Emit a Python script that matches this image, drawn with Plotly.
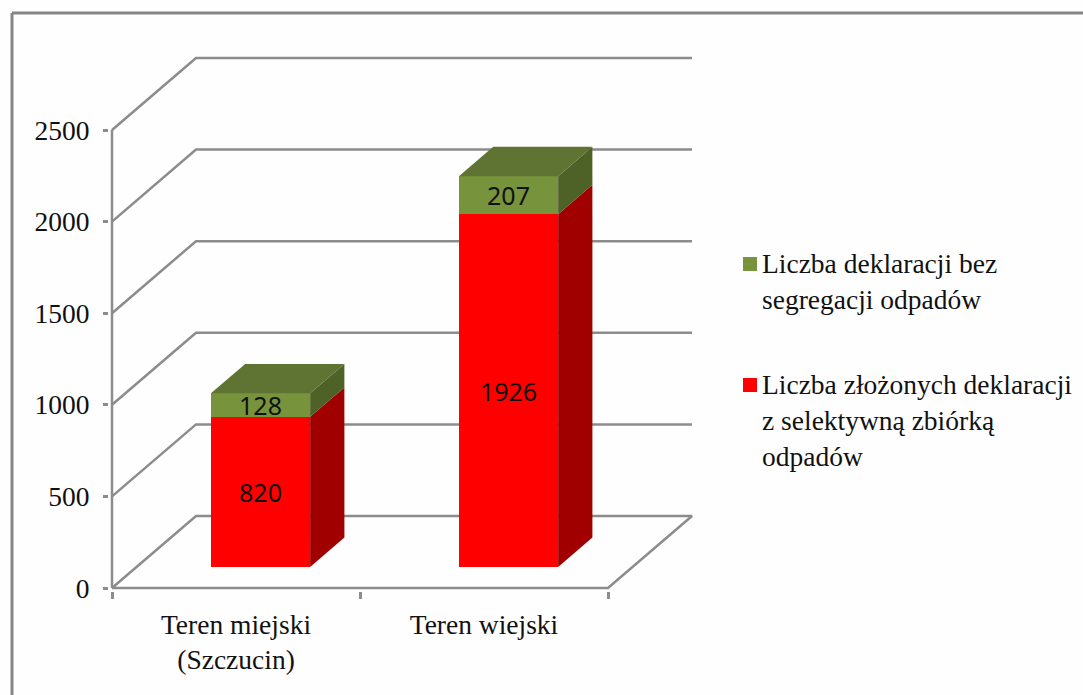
import plotly.graph_objects as go

categories = ["Teren miejski<br>(Szczucin)", "Teren wiejski"]
selective = [820, 1926]
no_segregation = [128, 207]
y_ticks = [0, 500, 1000, 1500, 2000, 2500]
name_selective = "Liczba złożonych deklaracji<br>z selektywną zbiórką<br>odpadów"
name_none = "Liczba deklaracji bez<br>segregacji odpadów"

W, H = 1083, 695
X_L, X_R, Y_B, Y_T = 112, 608, 588, 130          # front floor edge and 2500 level, in pixels
X_PX = (X_R - X_L) / 2                           # pixels per category
Y_PX = (Y_B - Y_T) / 2500                        # pixels per unit
DX = 84 / X_PX                                   # wall depth in x units
DY = 72 / Y_PX                                   # wall depth in y units
F0, F1 = 0.292, 0.70                             # bar front/back depth
BW = 0.40                                        # bar width

GRID = "#8c8c8c"
SERIF = "Liberation Serif"
FS = 27.5
INK = "#111111"
RED, RED_SIDE = "#ff0000", "#a00000"
GREEN, GREEN_TOP, GREEN_SIDE = "#77933c", "#5f7333", "#4e6127"

fig = go.Figure()

# walls, floor and the two axis lines, on the lower axes
for i, v in enumerate(y_ticks):
    xs = [-0.5, -0.5 + DX, 1.5 + DX]
    ys = [v, v + DY, v + DY]
    if i == 0:
        xs += [1.5, -0.5]
        ys += [v, v]
    fig.add_trace(go.Scatter(x=xs, y=ys, mode="lines", line=dict(color=GRID, width=2.5),
                             showlegend=False, hoverinfo="skip"))
fig.add_trace(go.Scatter(x=[-0.5, -0.5], y=[y_ticks[0], y_ticks[-1]], mode="lines",
                         line=dict(color=GRID, width=2.5),
                         showlegend=False, hoverinfo="skip"))


def poly(xs, ys, color):
    fig.add_trace(go.Scatter(x=xs + xs[:1], y=ys + ys[:1], mode="lines", fill="toself",
                             fillcolor=color, line=dict(width=0),
                             showlegend=False, hoverinfo="skip", xaxis="x2", yaxis="y2"))


bar_x = [i + F0 * DX for i in range(len(categories))]
base = F0 * DY
d_x = (F1 - F0) * DX
d_y = (F1 - F0) * DY

fig.add_trace(go.Bar(x=bar_x, y=no_segregation, base=[base + v for v in selective], width=BW,
                     name=name_none, marker=dict(color=GREEN, line=dict(width=0)),
                     text=no_segregation, textposition="inside", textangle=0,
                     insidetextanchor="middle", constraintext="none",
                     textfont=dict(family="Noto Sans", size=25, color=INK),
                     showlegend=False, xaxis="x2", yaxis="y2"))
fig.add_trace(go.Bar(x=bar_x, y=selective, base=[base, base], width=BW,
                     name=name_selective, marker=dict(color=RED, line=dict(width=0)),
                     text=selective, textposition="inside", textangle=0,
                     insidetextanchor="middle", constraintext="none",
                     textfont=dict(family="Noto Sans", size=25, color=INK),
                     showlegend=False, xaxis="x2", yaxis="y2"))

for cx, r, g in zip(bar_x, selective, no_segregation):
    xr = cx + BW / 2
    xl = cx - BW / 2
    b0, b1, b2 = base, base + r, base + r + g
    poly([xr, xr + d_x, xr + d_x, xr], [b0, b0 + d_y, b1 + d_y, b1], RED_SIDE)
    poly([xr, xr + d_x, xr + d_x, xr], [b1, b1 + d_y, b2 + d_y, b2], GREEN_SIDE)
    poly([xl, xr, xr + d_x, xl + d_x], [b2, b2, b2 + d_y, b2 + d_y], GREEN_TOP)

# The plot box spans the whole 3D room, with a small pad so no line is cropped
PAD = 4
EDGE = 3
axis_range_x = [-0.5 - EDGE / X_PX, 1.5 + DX + PAD / X_PX]
axis_range_y = [-EDGE / Y_PX, y_ticks[-1] + DY + PAD / Y_PX]
dom_x = [(X_L - EDGE) / W, (X_R + 84 + PAD) / W]
dom_y = [(H - Y_B - EDGE) / H, (H - (Y_T - 72 - PAD)) / H]

legend_items = [(name_none, GREEN, 247, 257), (name_selective, RED, 368, 378)]
legend_notes = [
    dict(text=t, xref="paper", yref="paper", x=761 / W, y=(H - top) / H, xanchor="left",
         yanchor="top", align="left", showarrow=False, borderpad=0,
         font=dict(family=SERIF, size=FS, color=INK))
    for t, _, top, _ in legend_items
]
legend_swatches = [
    dict(type="rect", xref="paper", yref="paper", x0=743 / W, x1=757 / W,
         y0=(H - sy) / H, y1=(H - sy - 14) / H, fillcolor=c, line=dict(width=0))
    for _, c, _, sy in legend_items
]

fig.update_layout(
    width=W, height=H, margin=dict(l=0, r=0, t=0, b=0, autoexpand=False),
    paper_bgcolor="#fefefe", plot_bgcolor="rgba(0,0,0,0)",
    barmode="overlay", bargap=0, showlegend=False,
    xaxis=dict(domain=dom_x, range=axis_range_x, tickmode="array",
               tickvals=list(range(len(categories))), ticktext=categories,
               ticks="", showgrid=False, zeroline=False, showline=False,
               ticklabelstandoff=14,
               tickfont=dict(family=SERIF, size=FS, color=INK),
               minor=dict(tickmode="array", tickvals=[-0.5, 0.5, 1.5], ticks="outside",
                          ticklen=7, tickwidth=2.5, tickcolor=GRID, showgrid=False)),
    yaxis=dict(domain=dom_y, range=axis_range_y, tickmode="array", tickvals=y_ticks,
               ticks="outside", ticklen=5, tickwidth=2.5, tickcolor=GRID,
               showgrid=False, zeroline=False, showline=False,
               ticklabelstandoff=8, tickfont=dict(family=SERIF, size=FS, color=INK)),
    xaxis2=dict(overlaying="x", matches="x", visible=False),
    yaxis2=dict(overlaying="y", matches="y", visible=False),
    annotations=legend_notes,
    shapes=[
        dict(type="line", xref="paper", yref="paper", x0=12 / W, x1=1, y0=(H - 13) / H, y1=(H - 13) / H,
             line=dict(color="#868686", width=3)),
        dict(type="line", xref="paper", yref="paper", x0=12 / W, x1=12 / W, y0=0, y1=(H - 13) / H,
             line=dict(color="#868686", width=3)),
    ] + legend_swatches,
    hovermode=False,
)

fig.write_html("out.html", config=dict(displayModeBar=False),
               post_script="document.body.style.margin='0';")
